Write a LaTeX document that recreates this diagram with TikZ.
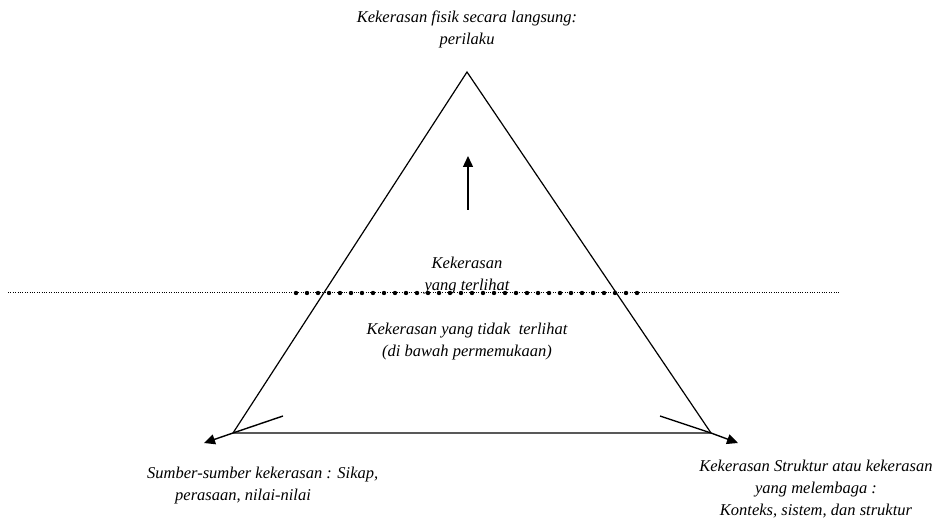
\documentclass[tikz,border=0pt]{standalone}
\usepackage{fontspec}
\setmainfont{Liberation Serif}
\usetikzlibrary{arrows.meta}
\begin{document}
\begin{tikzpicture}[x=1pt,y=-1pt,
  lbl/.style={font=\itshape\fontsize{16.5}{22}\selectfont, inner sep=0pt, align=center},
  edge/.style={line width=1.2pt},
  tip/.style={line width=1.4pt,-{Triangle[length=11pt,width=10pt]}}]
\useasboundingbox (0,0) rectangle (949,518);
% triangle corners
\coordinate (apex) at (467,72);
\coordinate (bl) at (233,433);
\coordinate (br) at (711,433);
\draw[edge] (bl) -- (apex) -- (br) -- cycle;
% waterline
\coordinate (wl1) at (8,292);
\coordinate (wl2) at (840,292);
\draw[line width=0.7pt, dash pattern=on 1pt off 1.4pt] (wl1) -- (wl2);
\foreach \i in {0,...,31} \fill ({296+11*\i},293) circle (2.2pt);
% up arrow
\coordinate (ua1) at (468,210);
\coordinate (ua2) at (468,156);
\draw[tip] (ua1) -- (ua2);
% corner arrows
\coordinate (la) at (204,443);
\coordinate (ls) at (283,416);
\draw[tip] (bl) -- (la);
\draw[line width=1.4pt] (bl) -- (ls);
\coordinate (ra) at (738,443);
\coordinate (rs) at (660,416);
\draw[tip] (br) -- (ra);
\draw[line width=1.4pt] (br) -- (rs);
% texts
\node[lbl] (top) at (467,29) {Kekerasan fisik secara langsung:\\perilaku};
\node[lbl] (vis) at (467,276) {Kekerasan\\yang terlihat};
\node[lbl] (invis) at (467,342) {Kekerasan yang tidak \ terlihat\\(di bawah permemukaan)};
\node[lbl, anchor=west] (src1) at (147,475) {Sumber-sumber kekerasan : Sikap,};
\node[lbl, anchor=west] (src2) at (175,497) {perasaan, nilai-nilai};
\node[lbl] (str) at (816,489) {Kekerasan Struktur atau kekerasan\\yang melembaga :\\Konteks, sistem, dan struktur};
\end{tikzpicture}
\end{document}
